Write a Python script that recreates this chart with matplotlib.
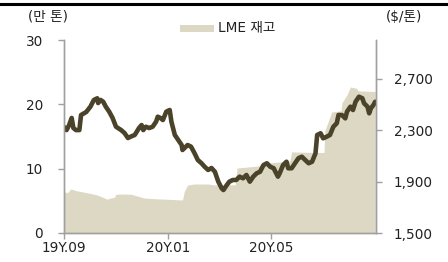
import matplotlib
matplotlib.use("Agg")
import matplotlib.pyplot as plt
from matplotlib.patches import Rectangle
from matplotlib.lines import Line2D
from matplotlib.ticker import FuncFormatter
import pandas as pd

plt.rcParams['font.family'] = ['DejaVu Sans', 'Noto Sans CJK KR']

# LME stocks (만 톤), left axis
stock_dates = ["2019-09-01", "2019-09-05", "2019-09-09", "2019-09-15", "2019-09-28",
               "2019-10-10", "2019-10-22", "2019-10-24", "2019-10-30", "2019-11-01",
               "2019-11-07", "2019-11-19", "2019-12-04", "2019-12-16", "2020-01-01",
               "2020-01-18", "2020-01-20", "2020-01-24", "2020-02-01", "2020-02-17",
               "2020-02-25", "2020-03-20", "2020-03-22", "2020-04-15", "2020-04-30",
               "2020-05-23", "2020-05-25", "2020-07-02", "2020-07-03", "2020-07-11",
               "2020-07-22", "2020-07-23", "2020-07-29", "2020-08-02", "2020-08-09",
               "2020-08-11", "2020-08-31"]
stock_vals = [6.42, 6.26, 6.84, 6.58, 6.26,
              5.91, 5.24, 5.39, 5.55, 6.02,
              6.06, 6.02, 5.44, 5.33, 5.24,
              5.13, 6.42, 7.46, 7.62, 7.62,
              7.46, 7.5, 10.1, 10.4, 10.9,
              11.2, 12.6, 12.5, 15.9, 18.8,
              19.0, 20.2, 21.5, 22.7, 22.5,
              22.1, 22.0]

# Price ($/톤), right axis
price_dates = ["2019-09-01", "2019-09-04", "2019-09-07", "2019-09-10", "2019-09-12",
               "2019-09-15", "2019-09-19", "2019-09-21", "2019-09-27", "2019-10-02",
               "2019-10-06", "2019-10-10", "2019-10-11", "2019-10-14", "2019-10-17",
               "2019-10-20", "2019-10-24", "2019-10-28", "2019-11-01", "2019-11-07",
               "2019-11-11", "2019-11-15", "2019-11-18", "2019-11-23", "2019-11-28",
               "2019-12-01", "2019-12-03", "2019-12-06", "2019-12-10", "2019-12-14",
               "2019-12-18", "2019-12-20", "2019-12-23", "2019-12-26", "2019-12-30",
               "2020-01-03", "2020-01-05", "2020-01-09", "2020-01-13", "2020-01-17",
               "2020-01-18", "2020-01-24", "2020-01-28", "2020-02-01", "2020-02-05",
               "2020-02-09", "2020-02-13", "2020-02-17", "2020-02-21", "2020-02-25",
               "2020-02-29", "2020-03-04", "2020-03-06", "2020-03-10", "2020-03-13",
               "2020-03-17", "2020-03-21", "2020-03-25", "2020-03-29", "2020-04-02",
               "2020-04-06", "2020-04-10", "2020-04-14", "2020-04-18", "2020-04-22",
               "2020-04-26", "2020-04-30", "2020-05-04", "2020-05-06", "2020-05-09",
               "2020-05-11", "2020-05-15", "2020-05-19", "2020-05-21", "2020-05-25",
               "2020-05-29", "2020-06-02", "2020-06-06", "2020-06-10", "2020-06-14",
               "2020-06-18", "2020-06-22", "2020-06-24", "2020-06-28", "2020-07-01",
               "2020-07-05", "2020-07-09", "2020-07-13", "2020-07-17", "2020-07-19",
               "2020-07-23", "2020-07-27", "2020-07-29", "2020-08-02", "2020-08-05",
               "2020-08-08", "2020-08-12", "2020-08-16", "2020-08-18", "2020-08-22",
               "2020-08-24", "2020-08-26", "2020-08-29", "2020-08-31"]
price_vals = [2324, 2300, 2339, 2394, 2316,
              2300, 2300, 2417, 2440, 2482,
              2534, 2547, 2510, 2534, 2520,
              2482, 2443, 2394, 2326, 2300,
              2277, 2238, 2248, 2262, 2316,
              2339, 2300, 2326, 2316, 2326,
              2365, 2404, 2394, 2378, 2443,
              2456, 2365, 2262, 2223, 2184,
              2145, 2184, 2171, 2122, 2067,
              2044, 2015, 1990, 2005, 1976,
              1899, 1847, 1834, 1873, 1899,
              1912, 1912, 1938, 1925, 1951,
              1899, 1938, 1964, 1976, 2028,
              2042, 2015, 2003, 1976, 1938,
              1964, 2028, 2054, 2003, 2003,
              2042, 2081, 2093, 2067, 2042,
              2054, 2119, 2262, 2275, 2236,
              2248, 2262, 2326, 2353, 2417,
              2417, 2391, 2443, 2482, 2456,
              2520, 2559, 2547, 2508, 2482,
              2430, 2469, 2495, 2520]

left_ticks = [0, 10, 20, 30]
right_ticks = [1500, 1900, 2300, 2700]
x_tick_dates = ["2019-09-01", "2020-01-01", "2020-05-01"]
x_tick_labels = ["19Y.09", "20Y.01", "20Y.05"]

sd = pd.to_datetime(stock_dates)
pdt = pd.to_datetime(price_dates)

W, H = 448, 262
fig = plt.figure(figsize=(W / 100, H / 100), dpi=100)
ax = fig.add_axes([64 / W, 1 - 233 / H, (376 - 64) / W, (233 - 40) / H])
ax2 = ax.twinx()

area_color = "#DDD8C3"
line_color = "#4A4229"
spine_color = "#A0A0A0"
text_color = "#222222"
fs = 9.8

ax.fill_between(sd, 0, stock_vals, color=area_color, linewidth=0, label="LME 재고")
ax2.plot(pdt, price_vals, color=line_color, linewidth=3.3, solid_joinstyle="round",
         solid_capstyle="round")

ax.set_xlim(pd.Timestamp("2019-09-01"), pd.Timestamp("2020-09-01"))
ax.set_ylim(0, 30)
ax2.set_ylim(1500, 3000)
ax.set_yticks(left_ticks)
ax2.set_yticks(right_ticks)
ax2.yaxis.set_major_formatter(FuncFormatter(lambda v, p: f"{int(v):,}"))
ax.set_xticks(pd.to_datetime(x_tick_dates))
ax.set_xticklabels(x_tick_labels)

for a in (ax, ax2):
    a.spines["top"].set_visible(False)
    for s in ("left", "right", "bottom"):
        a.spines[s].set_color(spine_color)
        a.spines[s].set_linewidth(1.0)
    a.tick_params(colors=spine_color, labelcolor=text_color, labelsize=fs,
                  length=4, width=1.0)
ax.tick_params(axis="y", pad=11)
ax2.tick_params(axis="y", pad=9)
ax.tick_params(axis="x", pad=1.5)
ax.set_zorder(ax2.get_zorder() - 1)
ax2.patch.set_visible(False)

fig.text(48 / W, 1 - 17 / H, "(만 톤)", ha="center", va="center", fontsize=fs, color=text_color)
fig.text(404 / W, 1 - 17 / H, "($/톤)", ha="center", va="center", fontsize=fs, color=text_color)
fig.patches.append(Rectangle((180 / W, 1 - 32 / H), 34 / W, 7 / H, transform=fig.transFigure,
                             facecolor=area_color, edgecolor="none"))
fig.text(218 / W, 1 - 28 / H, "LME 재고", ha="left", va="center", fontsize=fs, color=text_color)
fig.lines.append(Line2D([0, 1], [1 - 4 / H, 1 - 4 / H], transform=fig.transFigure,
                        color="black", linewidth=2.2))

fig.savefig("out.png", dpi=100)
